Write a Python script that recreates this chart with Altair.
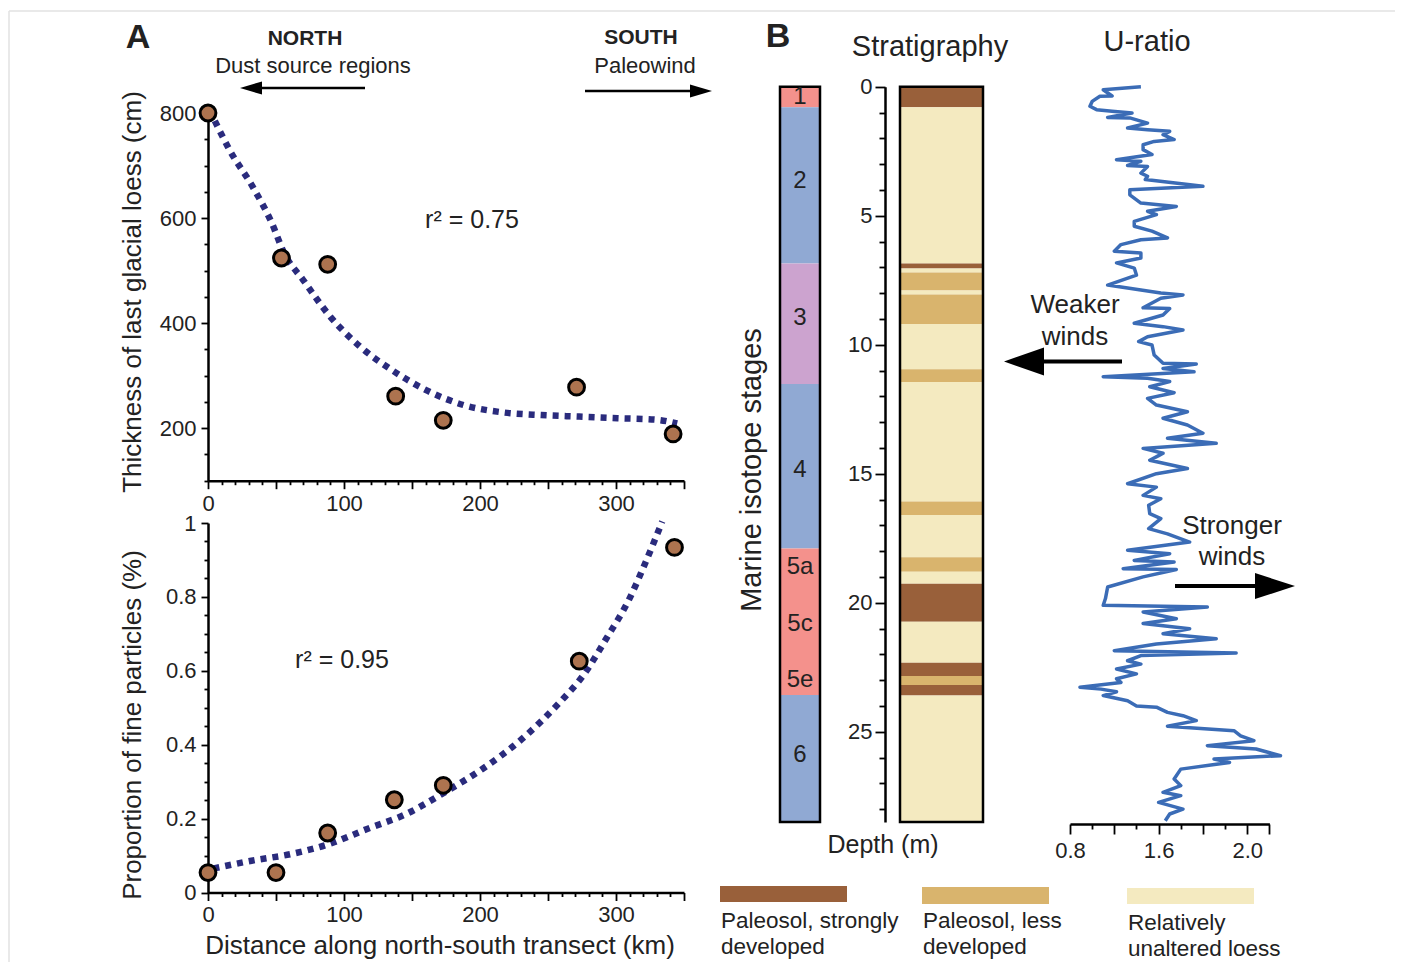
import altair as alt
import pandas as pd

# ------------------------------------------------------------------ data
# Panel A (top): thickness of last glacial loess (cm) vs distance (km)
dist_top = [0, 54, 88, 138, 173, 271, 342]
thick_top = [800, 524, 512, 261, 215, 278, 189]
fit_top_dist = [5, 16, 33, 47, 56, 70, 90, 112, 135, 160, 188, 217, 245, 273, 301, 330, 345]
fit_top_thick = [785, 729, 659, 590, 533, 482, 412, 355, 311, 273, 244, 230, 225, 222, 219, 216, 209]

# Panel A (bottom): proportion of fine particles vs distance (km)
dist_bot = [0, 50, 88, 137, 173, 273, 343]
frac_bot = [0.054, 0.054, 0.161, 0.251, 0.290, 0.626, 0.934]
fit_bot_dist = [4, 32, 61, 89, 117, 146, 174, 202, 231, 259, 276, 293, 310, 321, 334]
fit_bot_frac = [0.065, 0.086, 0.104, 0.131, 0.172, 0.213, 0.271, 0.335, 0.416, 0.516,
                0.588, 0.688, 0.796, 0.887, 1.004]

# Panel B: marine isotope stages (depth in m)
stage_top = [0, 0.8, 6.85, 11.52, 17.9, 23.58]
stage_bottom = [0.8, 6.85, 11.52, 17.9, 23.58, 28.5]
stage_kind = ["warm", "cold", "mild", "cold", "warm", "cold"]
stage_labels = ["1", "2", "3", "4", "5a", "5c", "5e", "6"]
stage_label_depth = [0.4, 3.65, 8.96, 14.85, 18.6, 20.83, 23.0, 25.9]

# Panel B: stratigraphy units
strat_top = [0, 0.8, 6.85, 7.05, 7.2, 7.9, 8.05, 9.2, 10.95, 11.45, 16.08, 16.6, 18.24,
             18.8, 19.27, 20.74, 22.33, 22.84, 23.19, 23.6]
strat_bottom = [0.8, 6.85, 7.05, 7.2, 7.9, 8.05, 9.2, 10.95, 11.45, 16.08, 16.6, 18.24,
                18.8, 19.27, 20.74, 22.33, 22.84, 23.19, 23.6, 28.5]
strat_type = ["strong", "loess", "strong", "loess", "less", "loess", "less", "loess", "less",
              "loess", "less", "loess", "less", "loess", "strong", "loess", "strong", "less",
              "strong", "loess"]
legend_types = ["strong", "less", "loess"]
legend_line1 = ["Paleosol, strongly", "Paleosol, less", "Relatively"]
legend_line2 = ["developed", "developed", "unaltered loess"]

# Panel B: U-ratio profile
u_depth = [0.00, 0.12, 0.36, 0.37, 0.57, 0.76, 0.89, 0.95, 1.02, 1.19, 1.21, 1.41, 1.60, 1.67,
           1.73, 1.86, 2.05, 2.12, 2.25, 2.44, 2.63, 2.83, 2.89, 3.05, 3.09, 3.35, 3.47, 3.60,
           3.86, 3.99, 4.19, 4.51, 4.64, 4.83, 4.96, 5.22, 5.41, 5.60, 5.86, 5.93, 6.12, 6.38,
           6.45, 6.64, 6.83, 7.03, 7.30, 7.69, 7.88, 8.00, 8.07, 8.20, 8.57, 8.60, 8.85, 9.17,
           9.30, 9.43, 9.69, 9.88, 10.01, 10.40, 10.72, 10.75, 10.92, 11.05, 11.24, 11.30,
           11.43, 11.63, 11.86, 12.08, 12.34, 12.60, 12.85, 13.11, 13.43, 13.63, 13.82, 14.02,
           14.21, 14.30, 14.48, 14.80, 15.00, 15.39, 15.52, 15.84, 15.97, 16.22, 16.55, 16.74,
           17.13, 17.33, 17.65, 17.97, 18.10, 18.36, 18.42, 18.68, 18.71, 19.00, 19.39, 19.84,
           20.10, 20.17, 20.36, 20.62, 20.81, 21.01, 21.20, 21.40, 21.60, 21.86, 21.95, 22.05,
           22.25, 22.38, 22.57, 22.76, 22.95, 23.09, 23.28, 23.35, 23.45, 23.60, 23.80, 24.00,
           24.05, 24.25, 24.38, 24.57, 24.79, 24.96, 25.16, 25.35, 25.54, 25.67, 25.93, 26.06,
           26.19, 26.45, 26.83, 27.09, 27.35, 27.48, 27.74, 28.00, 28.19, 28.45]
u_value = [1.52, 1.35, 1.39, 1.335, 1.30, 1.29, 1.32, 1.39, 1.48, 1.37, 1.47, 1.55, 1.46, 1.55,
           1.65, 1.62, 1.67, 1.58, 1.53, 1.53, 1.57, 1.41, 1.52, 1.46, 1.55, 1.52, 1.55, 1.54,
           1.80, 1.47, 1.47, 1.52, 1.68, 1.55, 1.59, 1.49, 1.49, 1.57, 1.64, 1.52, 1.43, 1.40,
           1.52, 1.52, 1.41, 1.49, 1.50, 1.37, 1.52, 1.61, 1.71, 1.61, 1.53, 1.65, 1.62, 1.49,
           1.62, 1.71, 1.55, 1.51, 1.57, 1.58, 1.62, 1.77, 1.62, 1.76, 1.35, 1.55,
           1.65, 1.56, 1.67, 1.55, 1.59, 1.73, 1.62, 1.73, 1.80, 1.64, 1.86, 1.53,
           1.62, 1.60, 1.56, 1.73, 1.59, 1.46, 1.59, 1.53, 1.61, 1.555, 1.56, 1.61,
           1.555, 1.64, 1.74, 1.46, 1.65, 1.49, 1.67, 1.44, 1.68, 1.53, 1.37, 1.36,
           1.35, 1.82, 1.53, 1.68, 1.53, 1.74, 1.62, 1.86, 1.59, 1.40, 1.95, 1.52,
           1.46, 1.52, 1.41, 1.50, 1.41, 1.43, 1.245, 1.34, 1.41, 1.35, 1.46, 1.50,
           1.59, 1.64, 1.71, 1.77, 1.64, 1.94, 1.97, 2.03, 1.82, 2.04, 2.15, 1.85,
           1.92, 1.70, 1.67, 1.70, 1.62, 1.70, 1.60, 1.71, 1.65, 1.63]

# ------------------------------------------------------------------ style / layout
W, H = 1387, 954
FONT = "Liberation Sans"
INK = "#222222"
PT_FILL = "#ad734f"
NAVY = "#2a2b7d"
ULINE = "#3b6cb6"
STAGE_COLORS = {"warm": "#f4918c", "cold": "#90a9d3", "mild": "#cca3cf"}
STRAT_COLORS = {"strong": "#99603a", "less": "#d9b46d", "loess": "#f4eac0"}

XA_RANGE = [200, 676]
YTOP_RANGE = [472.7, 105]
YBOT_RANGE = [884.5, 515]
DEPTH_RANGE = [78.7, 814]
U_RANGE = [1062, 1261.4]
ISO_X = (772, 812)
STRAT_X = (892, 975)
DEPTH_AXIS_X = 877
U_AXIS_Y = 816

one = pd.DataFrame({"k": [0]})


def axis(orient, offset, values, tick, labels=True, label_expr=None, fmt=None, pad=4, domain=True):
    kw = dict(orient=orient, offset=offset, values=values, grid=False, title=None,
              ticks=True, tickSize=tick, tickWidth=1.8, tickColor="black",
              domain=domain, domainColor="black", domainWidth=2.5,
              labels=labels, labelFont=FONT, labelFontSize=22, labelColor=INK,
              labelPadding=pad, labelFlush=False, labelOverlap=False)
    if label_expr:
        kw["labelExpr"] = label_expr
    if fmt:
        kw["format"] = fmt
    return alt.Axis(**kw)


def ghost(channel, scale, ax, vals):
    df = pd.DataFrame({"v": vals})
    if channel == "x":
        enc = dict(x=alt.X("v:Q", scale=scale, axis=ax))
    else:
        enc = dict(y=alt.Y("v:Q", scale=scale, axis=ax))
    return alt.Chart(df).mark_point(opacity=0).encode(**enc)


def label(text, x, y, size, weight="normal", angle=0, align="center", baseline="middle"):
    kw = dict(text=text, fontSize=size, fontWeight=weight, font=FONT, color=INK,
              align=align, baseline=baseline)
    if angle:
        kw["angle"] = angle
    return alt.Chart(one).mark_text(**kw).encode(x=alt.value(x), y=alt.value(y))


def arrow(x_from, x_tip, y, width, head_w, head_h):
    r = round(head_h / head_w, 3)
    if x_tip < x_from:
        path = f"M -1 0 L 1 -{r} L 1 {r} Z"
        center = x_tip + head_w / 2
    else:
        path = f"M 1 0 L -1 -{r} L -1 {r} Z"
        center = x_tip - head_w / 2
    shaft = alt.Chart(one).mark_rule(color="black", strokeWidth=width).encode(
        x=alt.value(x_from), x2=alt.value(center), y=alt.value(y))
    head = alt.Chart(one).mark_point(shape=path, size=head_w ** 2, filled=True, color="black",
                                     opacity=1, strokeWidth=0).encode(
        x=alt.value(center), y=alt.value(y))
    return [shaft, head]


# ------------------------------------------------------------------ scales
xA = alt.Scale(domain=[0, 350], range=XA_RANGE, nice=False, zero=False)
yTop = alt.Scale(domain=[100, 800], range=YTOP_RANGE, nice=False, zero=False)
yBot = alt.Scale(domain=[0, 1], range=YBOT_RANGE, nice=False, zero=False)
dS = alt.Scale(domain=[0, 28.5], range=DEPTH_RANGE, nice=False, zero=False)
uS = alt.Scale(domain=[1.2, 2.1], range=U_RANGE, nice=False, zero=False)

x_major = [0, 50, 100, 150, 200, 250, 300, 350]
x_minor = [v for v in range(10, 350, 10) if v % 50]
x_lab = "datum.value % 100 == 0 ? datum.label : ''"


def panel(pts_x, pts_y, fit_x, fit_y, yscale, xax, yax):
    pts = pd.DataFrame({"dist": pts_x, "val": pts_y})
    fit = pd.DataFrame({"dist": fit_x, "val": fit_y})
    ex = alt.X("dist:Q", scale=xA, axis=xax)
    ey = alt.Y("val:Q", scale=yscale, axis=yax)
    line = alt.Chart(fit).mark_line(color=NAVY, strokeWidth=6.5, strokeDash=[6, 6],
                                    interpolate="monotone").encode(x=ex, y=ey, order="dist:Q")
    dots = alt.Chart(pts).mark_circle(size=250, color=PT_FILL, fill=PT_FILL, fillOpacity=1,
                                      stroke="black", strokeWidth=3, opacity=1).encode(x=ex, y=ey)
    return alt.layer(line, dots)


layers = []

# frame lines (top and left)
layers.append(alt.Chart(one).mark_rule(color="#e2e2e2", strokeWidth=1.5).encode(
    x=alt.value(1), x2=alt.value(W), y=alt.value(3)))
layers.append(alt.Chart(one).mark_rule(color="#e2e2e2", strokeWidth=1.5).encode(
    x=alt.value(1), y=alt.value(3), y2=alt.value(H)))

# --- panel A top
layers.append(panel(dist_top, thick_top, fit_top_dist, fit_top_thick, yTop,
                    axis("bottom", YTOP_RANGE[0] - H, x_major, 8, label_expr=x_lab, pad=5),
                    axis("left", -XA_RANGE[0], [200, 400, 600, 800], 7, pad=5)))
layers.append(ghost("x", xA, axis("bottom", YTOP_RANGE[0] - H, x_minor, 4, labels=False, domain=False), dist_top))
layers.append(ghost("y", yTop, axis("left", -XA_RANGE[0], [v for v in range(100, 800, 50) if v % 200], 4,
                                    labels=False, domain=False), thick_top))

# --- panel A bottom
layers.append(panel(dist_bot, frac_bot, fit_bot_dist, fit_bot_frac, yBot,
                    axis("bottom", YBOT_RANGE[0] - H, x_major, 8, label_expr=x_lab, pad=4),
                    axis("left", -XA_RANGE[0], [0, 0.2, 0.4, 0.6, 0.8, 1], 7, fmt="~g", pad=5)))
layers.append(ghost("x", xA, axis("bottom", YBOT_RANGE[0] - H, x_minor, 4, labels=False, domain=False), dist_bot))
layers.append(ghost("y", yBot, axis("left", -XA_RANGE[0],
                                    [0.05, 0.1, 0.15, 0.25, 0.3, 0.35, 0.45, 0.5, 0.55, 0.65, 0.7, 0.75,
                                     0.85, 0.9, 0.95], 4, labels=False, domain=False), frac_bot))

# --- panel B: isotope stages column
stage_df = pd.DataFrame({"top": stage_top, "bottom": stage_bottom, "kind": stage_kind})
iso_rect = alt.Chart(stage_df).mark_rect().encode(
    x=alt.value(ISO_X[0]), x2=alt.value(ISO_X[1]),
    y=alt.Y("top:Q", scale=dS, axis=None), y2="bottom:Q",
    color=alt.Color("kind:N", scale=alt.Scale(domain=list(STAGE_COLORS), range=list(STAGE_COLORS.values())),
                    legend=None))
iso_outline = alt.Chart(pd.DataFrame({"top": [min(stage_top)], "bottom": [max(stage_bottom)]})).mark_rect(
    fillOpacity=0, stroke="black", strokeWidth=2.5).encode(
    x=alt.value(ISO_X[0]), x2=alt.value(ISO_X[1]),
    y=alt.Y("top:Q", scale=dS, axis=None), y2="bottom:Q")
iso_text = alt.Chart(pd.DataFrame({"lab": stage_labels, "d": stage_label_depth})).mark_text(
    font=FONT, fontSize=24, color=INK, baseline="middle").encode(
    x=alt.value((ISO_X[0] + ISO_X[1]) / 2), y=alt.Y("d:Q", scale=dS, axis=None), text="lab:N")
layers.append(alt.layer(iso_rect, iso_outline, iso_text))

# --- panel B: stratigraphy column with depth axis
d_axis = axis("left", -DEPTH_AXIS_X, [0, 5, 10, 15, 20, 25], 10, pad=3)
strat_df = pd.DataFrame({"top": strat_top, "bottom": strat_bottom, "type": strat_type})
strat_rect = alt.Chart(strat_df).mark_rect().encode(
    x=alt.value(STRAT_X[0]), x2=alt.value(STRAT_X[1]),
    y=alt.Y("top:Q", scale=dS, axis=d_axis), y2="bottom:Q",
    color=alt.Color("type:N", scale=alt.Scale(domain=list(STRAT_COLORS), range=list(STRAT_COLORS.values())),
                    legend=None))
strat_outline = alt.Chart(pd.DataFrame({"top": [min(strat_top)], "bottom": [max(strat_bottom)]})).mark_rect(
    fillOpacity=0, stroke="black", strokeWidth=2.5).encode(
    x=alt.value(STRAT_X[0]), x2=alt.value(STRAT_X[1]),
    y=alt.Y("top:Q", scale=dS, axis=d_axis), y2="bottom:Q")
layers.append(alt.layer(strat_rect, strat_outline))
layers.append(ghost("y", dS, axis("left", -DEPTH_AXIS_X, [v for v in range(1, 29) if v % 5], 6,
                                  labels=False, domain=False), strat_top))

# --- panel B: U-ratio
u_df = pd.DataFrame({"depth": u_depth, "u": u_value})
u_axis = axis("bottom", U_AXIS_Y - H, [1.2, 1.4, 1.6, 1.8, 2.0, 2.1], 10, pad=6,
              label_expr="datum.value == 1.2 ? '0.8' : ((datum.value == 1.6 || datum.value == 2) ? format(datum.value, '.1f') : '')")
layers.append(alt.Chart(u_df).mark_line(color=ULINE, strokeWidth=3.5, strokeJoin="round").encode(
    x=alt.X("u:Q", scale=uS, axis=u_axis),
    y=alt.Y("depth:Q", scale=dS, axis=None),
    order="depth:Q"))
layers.append(ghost("x", uS, axis("bottom", U_AXIS_Y - H, [1.3, 1.5, 1.7, 1.9], 5, labels=False, domain=False),
                    u_value))

# --- annotations
layers += [
    label("A", 130, 30, 34, "bold"),
    label("NORTH", 297, 31, 21, "bold"),
    label("Dust source regions", 305, 58, 22),
    label("SOUTH", 633, 30, 21, "bold"),
    label("Paleowind", 637, 58, 22),
    label("r² = 0.75", 464, 212, 25),
    label("r² = 0.95", 334, 652, 25),
    label("Thickness of last glacial loess (cm)", 125, 284, 26, angle=270),
    label("Proportion of fine particles (%)", 125, 717, 26, angle=270),
    label("Distance along north-south transect (km)", 432, 938, 26),
    label("B", 770, 29, 34, "bold"),
    label("Stratigraphy", 922, 39, 29),
    label("U-ratio", 1139, 34, 29),
    label("Marine isotope stages", 744, 462, 29, angle=270),
    label("Depth (m)", 875, 837, 25),
    label("Weaker", 1067, 297, 26),
    label("winds", 1067, 329, 26),
    label("Stronger", 1224, 518, 26),
    label("winds", 1224, 549, 26),
]
layers += arrow(357, 232, 80, 2.5, 22, 13)
layers += arrow(577, 704, 83, 2.5, 22, 13)
layers += arrow(1114, 996, 353.5, 4, 40, 28)
layers += arrow(1167, 1287, 578, 4, 40, 26)

# --- legend for stratigraphy
leg_x = [712, 914, 1119]
leg_y = [(878, 894), (879, 896), (880, 896)]
for i, t in enumerate(legend_types):
    layers.append(alt.Chart(one).mark_rect(color=STRAT_COLORS[t]).encode(
        x=alt.value(leg_x[i]), x2=alt.value(leg_x[i] + 127),
        y=alt.value(leg_y[i][0]), y2=alt.value(leg_y[i][1])))
    layers.append(label(legend_line1[i], leg_x[i] + 1, 913 + (2 if i == 2 else 0), 22.5, align="left"))
    layers.append(label(legend_line2[i], leg_x[i] + 1, 939 + (2 if i == 2 else 0), 22.5, align="left"))

chart = alt.layer(*layers).resolve_scale(
    x="independent", y="independent", color="independent"
).resolve_axis(
    x="independent", y="independent"
).properties(
    width=W, height=H, padding=0, autosize=alt.AutoSizeParams(type="none")
).configure_view(stroke=None).configure_text(font=FONT)

chart.save("out.html", embed_options={"renderer": "svg", "actions": False})
